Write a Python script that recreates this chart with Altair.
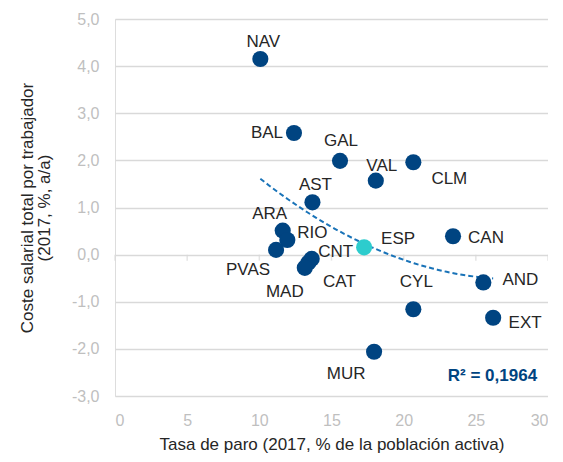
import altair as alt
import pandas as pd

# ---- data ----
regions = ["NAV", "BAL", "GAL", "VAL", "CLM", "AST", "ARA", "RIO", "PVAS",
           "CNT", "CAT", "MAD", "CAN", "AND", "CYL", "EXT", "MUR"]
paro = [10.07, 12.4, 15.59, 18.07, 20.67, 13.68, 11.62, 11.94, 11.16,
        13.63, 13.4, 13.15, 23.42, 25.52, 20.67, 26.2, 17.95]
coste = [4.15, 2.58, 1.99, 1.57, 1.96, 1.11, 0.51, 0.31, 0.10,
         -0.09, -0.17, -0.28, 0.39, -0.59, -1.16, -1.34, -2.06]

esp_label = ["ESP"]
esp_paro = [17.26]
esp_coste = [0.155]

x_ticks = [0, 5, 10, 15, 20, 25, 30]
y_ticks = [-3, -2, -1, 0, 1, 2, 3, 4, 5]
r2_text = "R² = 0,1964"

# ---- label placement (style, pixels) ----
label_offsets = {
    "NAV": (3, -17), "BAL": (-27, 0), "GAL": (1, -20), "VAL": (6, -15),
    "CLM": (36, 17), "AST": (3, -17), "ARA": (-13, -17), "RIO": (25, -7),
    "PVAS": (-28, 20), "CNT": (24, -7), "CAT": (31, 19), "MAD": (-20, 24),
    "CAN": (33, 2), "AND": (37, -2), "CYL": (3, -27), "EXT": (32, 5),
    "MUR": (-28, 22), "ESP": (34, -8),
}

df = pd.DataFrame({"region": regions, "paro": paro, "coste": coste})
esp = pd.DataFrame({"region": esp_label, "paro": esp_paro, "coste": esp_coste})
alldf = pd.concat([df, esp], ignore_index=True)
ticks_df = pd.DataFrame({"t": x_ticks})

FONT = "Liberation Sans"
DARK = "#004481"
AQUA = "#2DCCCD"

xscale = alt.Scale(domain=[0, 30], nice=False, zero=False)
yscale = alt.Scale(domain=[-3, 5], nice=False, zero=False)

xenc = alt.X("paro:Q", scale=xscale, axis=alt.Axis(
    values=x_ticks, title="Tasa de paro (2017, % de la población activa)",
    format="d", grid=False, domain=False, ticks=False,
    labelColor="#bfbfbf", labelFontSize=16, labelPadding=16, labelFont=FONT,
    titleFont=FONT, titleFontSize=17, titleFontWeight="normal", titleColor="#262626",
    titlePadding=8))
yenc = alt.Y("coste:Q", scale=yscale, axis=alt.Axis(
    values=y_ticks, title=["Coste salarial total por trabajador", "(2017, %, a/a)"],
    labelExpr="replace(replace(format(datum.value, '.1f'), '.', ','), '\u2212', '-')",
    grid=True, gridColor="#d9d9d9", gridWidth=1.5, domain=False, ticks=False,
    labelColor="#bfbfbf", labelFontSize=16, labelPadding=16, labelFont=FONT,
    titleFont=FONT, titleFontSize=17, titleFontWeight="normal", titleColor="#262626",
    titlePadding=18, titleLineHeight=17))

base = alt.Chart(df)

grid_layer = alt.Chart(df).mark_point(opacity=0).encode(x=xenc, y=yenc)

zero_ticks = alt.Chart(ticks_df).mark_tick(
    orient="vertical", color="#d9d9d9", size=6, thickness=1.5, yOffset=3
).encode(x=alt.X("t:Q", scale=xscale), y=alt.datum(0, scale=yscale))

trend = base.transform_regression(
    "paro", "coste", method="poly", order=2
).mark_line(color="#1973B8", strokeDash=[5, 3], strokeWidth=2).encode(
    x=alt.X("paro:Q", scale=xscale), y=alt.Y("coste:Q", scale=yscale))

dots = base.mark_circle(size=260, color=DARK, opacity=1).encode(
    x=alt.X("paro:Q", scale=xscale), y=alt.Y("coste:Q", scale=yscale))

esp_dot = alt.Chart(esp).mark_circle(size=260, color=AQUA, opacity=1).encode(
    x=alt.X("paro:Q", scale=xscale), y=alt.Y("coste:Q", scale=yscale))

label_layers = []
for name, (dx, dy) in label_offsets.items():
    label_layers.append(
        alt.Chart(alldf).transform_filter(alt.datum.region == name).mark_text(
            font=FONT, fontSize=17, color="#262626", dx=dx, dy=dy,
            align="center", baseline="middle"
        ).encode(x=alt.X("paro:Q", scale=xscale), y=alt.Y("coste:Q", scale=yscale),
                 text="region:N")
    )

r2 = alt.Chart(pd.DataFrame({"txt": [r2_text]})).mark_text(
    font=FONT, fontSize=17, fontWeight="bold", color=DARK, align="center",
    baseline="middle"
).encode(x=alt.datum(26.15, scale=xscale), y=alt.datum(-2.57, scale=yscale), text="txt:N")

chart = alt.layer(grid_layer, zero_ticks, trend, dots, esp_dot, *label_layers, r2).properties(
    width=433, height=377,
    autosize=alt.AutoSizeParams(type="none"),
    padding={"left": 107, "top": 11, "right": 0, "bottom": 58},
).configure_view(stroke=None).configure(background="white")

chart.save("out.html", embed_options={"renderer": "svg", "actions": False})
